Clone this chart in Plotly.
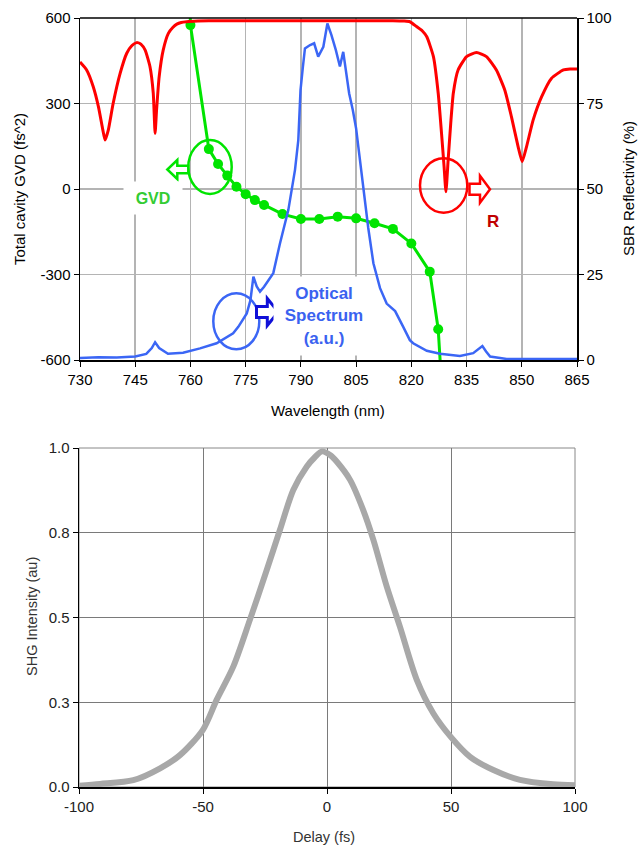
import plotly.graph_objects as go

W, H = 639, 845
FONT = "Liberation Sans, Arial, sans-serif"

# ---------------- data: top chart ----------------
# SBR reflectivity (%) vs wavelength (nm)
refl_wl = [730, 731.8, 733.6, 735, 736.2, 736.8, 737.7, 739, 740.9, 742.7, 744.0, 745.4, 746.6, 747.7, 749,
           749.9, 750.4, 750.8, 751.5, 752.6, 754, 755.2, 756.3, 757.5, 759, 762, 765, 780, 800, 815, 818,
           819.6, 821.4, 823, 824.2, 826, 827.3, 828.2, 828.9, 829.4, 830, 830.7, 831.4, 832.7, 835,
           837.7, 840.4, 843.1, 845.4, 847.2, 849, 850.1, 851.3, 853.1, 855.4, 858.1, 861.3, 863.1, 865]
refl_val = [87.1, 84.8, 79.9, 74.1, 67.3, 64.3, 67.3, 75.0, 83.8, 89.7, 91.8, 92.8, 92.3, 90.6, 85.8,
            78.0, 66.3, 73.1, 82.8, 90.6, 95.5, 97.2, 98.2, 98.7, 98.9, 99.1, 99.2, 99.2, 99.2, 99.2, 99.1,
            98.9, 97.5, 96.2, 94.5, 88.7, 78.0, 66.3, 56.5, 49.2, 58.5, 69.2, 78.0, 84.8, 88.7,
            89.9, 88.7, 84.8, 78.9, 71.1, 62.4, 58.0, 62.4, 70.2, 77.0, 82.4, 84.8, 85.1, 85.1]

# Optical spectrum (a.u., plotted on the 0-100 scale)
spec_wl = [730, 735, 740, 745, 748, 749.5, 750.4, 751.5, 753.9, 758, 762.6, 767.1, 771.6, 773, 775.3,
           776.3, 777.1, 778, 778.9, 780, 782.5, 784.3, 786.6, 788.4, 789.3, 789.9, 790.5, 791.1,
           792.5, 793.6, 794.7, 796.1, 797.2, 798.3, 799.5, 800.6, 801.5, 802.2, 803.1, 804.1, 805,
           805.6, 806.9, 808.3, 809.7, 811.5, 813.3, 814.2, 815.6, 817.8, 819.6, 820.5, 824.2, 827.8,
           833.2, 836.8, 838.3, 839.3, 840.3, 841.4, 845.9, 850, 855, 860, 865]
spec_val = [0.6, 0.8, 0.7, 1.0, 1.8, 3.5, 5.2, 3.5, 1.8, 2.1, 3.4, 4.9, 7.8, 9.7, 13.6,
            17.5, 24.4, 21.5, 20.0, 21.4, 25.4, 34.0, 43.9, 55.6, 64.3, 78.9, 85.3, 91.1,
            92.1, 92.6, 88.7, 91.6, 98.4, 95.0, 90.6, 85.8, 90.1, 84.3, 78.0, 73.1, 67.7,
            62.4, 50.7, 38.6, 28.3, 21.0, 16.5, 15.6, 14.3, 9.7, 5.8, 4.9, 2.7, 1.8,
            1.2, 2.0, 3.2, 4.1, 2.5, 1.0, 0.3, 0.3, 0.4, 0.3, 0.3]

# Total cavity GVD (fs^2): measured markers
gvd_wl = [760, 765, 767.5, 770, 772.5, 775, 777.5, 780, 785, 790, 795, 800, 805, 810, 815, 820, 825, 827.3]
gvd_val = [575, 140, 88, 47, 8, -18, -39, -56, -88, -105, -105, -97, -103, -120, -140, -191, -290, -492]
# line continues beyond the axis range at both ends
gvd_line_wl = [759.8] + gvd_wl + [828.0]
gvd_line_val = [680] + gvd_val + [-640]

# ---------------- data: bottom chart ----------------
delay = [-100, -91.5, -78.1, -67.3, -59.3, -50.1, -44.5, -37.8, -31.1, -24.3, -19, -13.6, -8.2, -5,
         -2, 1.5, 3.9, 9.3, 14.6, 18.7, 24.1, 29.4, 36.2, 42.9, 49.9, 57.7, 67.1, 77.8, 91.2, 100]
shg = [0.004, 0.009, 0.02, 0.055, 0.094, 0.168, 0.257, 0.355, 0.493, 0.64, 0.758, 0.876, 0.945, 0.972,
       0.99, 0.978, 0.96, 0.906, 0.817, 0.729, 0.591, 0.473, 0.316, 0.217, 0.148, 0.089, 0.05, 0.021, 0.008, 0.005]

top_xticks = list(range(730, 866, 15))
gvd_ticks = [-600, -300, 0, 300, 600]
gvd_ticktext = ["-600", "-300", "0", "300", "600"]
refl_ticks = [0, 25, 50, 75, 100]
delay_ticks = [-100, -50, 0, 50, 100]
delay_ticktext = ["-100", "-50", "0", "50", "100"]
shg_tickvals = [0, 0.25, 0.5, 0.75, 1.0]
shg_ticktext = ["0.0", "0.3", "0.5", "0.8", "1.0"]

RED = "#ff0000"
GREEN = "#00e400"
BLUE = "#3b66f5"


def px(x, y):
    return x / W, 1 - y / H


def arrow_path(x_tail, x_tip, yc, head_len, head_half, shaft_half):
    d = 1 if x_tip > x_tail else -1
    xb = x_tip - d * head_len
    pts = [(x_tail, yc - shaft_half), (xb, yc - shaft_half), (xb, yc - head_half), (x_tip, yc),
           (xb, yc + head_half), (xb, yc + shaft_half), (x_tail, yc + shaft_half)]
    s = ""
    for i, (a, b) in enumerate(pts):
        u, v = px(a, b)
        s += ("M" if i == 0 else "L") + f"{u:.5f},{v:.5f} "
    return s + "Z"


def ellipse(x0, y0, x1, y1, color, width=2.5):
    u0, v0 = px(x0, y1)
    u1, v1 = px(x1, y0)
    return dict(type="circle", xref="paper", yref="paper", x0=u0, y0=v0, x1=u1, y1=v1,
                line=dict(color=color, width=width), layer="above")


fig = go.Figure()

fig.add_trace(go.Scatter(x=spec_wl, y=spec_val, mode="lines", xaxis="x", yaxis="y2",
                         line=dict(color=BLUE, width=2.5), showlegend=False))
fig.add_trace(go.Scatter(x=refl_wl, y=refl_val, mode="lines", xaxis="x", yaxis="y2",
                         line=dict(color=RED, width=3, shape="spline", smoothing=0.5), showlegend=False))
fig.add_trace(go.Scatter(x=gvd_line_wl, y=gvd_line_val, mode="lines", xaxis="x", yaxis="y",
                         line=dict(color=GREEN, width=3), showlegend=False))
fig.add_trace(go.Scatter(x=gvd_wl, y=gvd_val, mode="markers", xaxis="x", yaxis="y",
                         marker=dict(color=GREEN, size=10), showlegend=False, cliponaxis=False))

fig.add_trace(go.Scatter(x=delay, y=shg, mode="lines", xaxis="x3", yaxis="y3",
                         line=dict(color="#a8a8a8", width=6, shape="spline", smoothing=0.8), showlegend=False))

tick_font_top = dict(family=FONT, size=15, color="#000")
tick_font_bot = dict(family=FONT, size=15, color="#222")

top_y0, top_y1 = 1 - 360 / H, 1 - 18 / H
bot_y0, bot_y1 = 1 - 787 / H, 1 - 448 / H

shapes = []
shapes.append(dict(type="line", xref="paper", yref="paper", x0=80 / W, x1=577 / W, y0=top_y1, y1=top_y1,
                   line=dict(color="#000", width=1.5), layer="above"))
shapes.append(dict(type="rect", xref="paper", yref="paper", x0=79 / W, x1=575 / W, y0=bot_y0, y1=bot_y1,
                   line=dict(color="#888", width=1), layer="below"))

shapes.append(ellipse(188.3, 140, 231.7, 194, GREEN))
shapes.append(ellipse(213.3, 293.3, 259.3, 349.3, BLUE))
shapes.append(ellipse(420, 158.3, 467.3, 212.7, RED))
shapes.append(dict(type="path", xref="paper", yref="paper", path=arrow_path(188.3, 167.3, 169.5, 10, 9.5, 3.8),
                   line=dict(color=GREEN, width=2.5), fillcolor="white", layer="above"))
shapes.append(dict(type="path", xref="paper", yref="paper", path=arrow_path(256.5, 278.3, 312, 11, 13.5, 5.5),
                   line=dict(color="#1010d8", width=3), fillcolor="white", layer="above"))
shapes.append(dict(type="path", xref="paper", yref="paper", path=arrow_path(469.5, 490, 189.2, 10, 13.5, 5.5),
                   line=dict(color=RED, width=2.5), fillcolor="white", layer="above"))

ann = []


def text(x, y, s, size, color, angle=0, bold=False, **kw):
    u, v = px(x, y)
    d = dict(xref="paper", yref="paper", x=u, y=v, text=(f"<b>{s}</b>" if bold else s), showarrow=False,
             textangle=angle, font=dict(family=FONT, size=size, color=color), xanchor="center", yanchor="middle")
    d.update(kw)
    ann.append(d)


text(20, 189, "Total cavity GVD (fs^2)", 15, "#000", angle=-90)
text(629, 189, "SBR Reflectivity (%)", 15, "#000", angle=-90)
text(328, 410, "Wavelength (nm)", 15, "#000")
text(32, 617, "SHG Intensity (au)", 14.5, "#333", angle=-90)
text(324, 837, "Delay (fs)", 14.5, "#333")

text(153, 198, "GVD", 16, "#33cc33", bold=True, bgcolor="white", width=48, height=22, borderpad=5)
text(324, 316, "Optical<br>Spectrum<br>(a.u.)", 17, "#3a62f0", bold=True, bgcolor="white",
     width=92, height=70, borderpad=4)
text(493.3, 221.7, "R", 17, "#c00000", bold=True)

common = dict(automargin=False, zeroline=False, showline=True, linecolor="#000", linewidth=1.5,
              ticks="outside", ticklen=5, tickcolor="#000")

fig.update_layout(
    template="none",
    width=W, height=H,
    margin=dict(l=0, r=0, t=0, b=0, autoexpand=False),
    paper_bgcolor="white", plot_bgcolor="white",
    showlegend=False,
    hovermode=False,
    xaxis=dict(domain=[80 / W, 577 / W], range=[730, 865], tickvals=top_xticks, anchor="y",
               showgrid=True, gridcolor="#b4b4b4", gridwidth=1.5, tickfont=tick_font_top, **common),
    yaxis=dict(domain=[top_y0, top_y1], range=[-600, 600], tickvals=gvd_ticks, ticktext=gvd_ticktext,
               anchor="x", showgrid=True, gridcolor="#b4b4b4", gridwidth=1.5, tickfont=tick_font_top, **common),
    yaxis2=dict(overlaying="y", side="right", anchor="x", range=[0, 100], tickvals=refl_ticks,
                showgrid=False, tickfont=tick_font_top, **common),
    xaxis3=dict(domain=[79 / W, 575 / W], range=[-100, 100], tickvals=delay_ticks, ticktext=delay_ticktext,
                anchor="y3", showgrid=True, gridcolor="#7a7a7a", gridwidth=1, tickfont=tick_font_bot, **common),
    yaxis3=dict(domain=[bot_y0, bot_y1], range=[0, 1], tickvals=shg_tickvals, ticktext=shg_ticktext,
                anchor="x3", showgrid=True, gridcolor="#7a7a7a", gridwidth=1, tickfont=tick_font_bot, **common),
    shapes=shapes,
    annotations=ann,
)

fig.write_html("out.html",
               config={"displayModeBar": False, "staticPlot": True},
               post_script="document.body.style.margin='0';document.body.style.padding='0';"
                           "document.body.style.overflow='hidden';")
